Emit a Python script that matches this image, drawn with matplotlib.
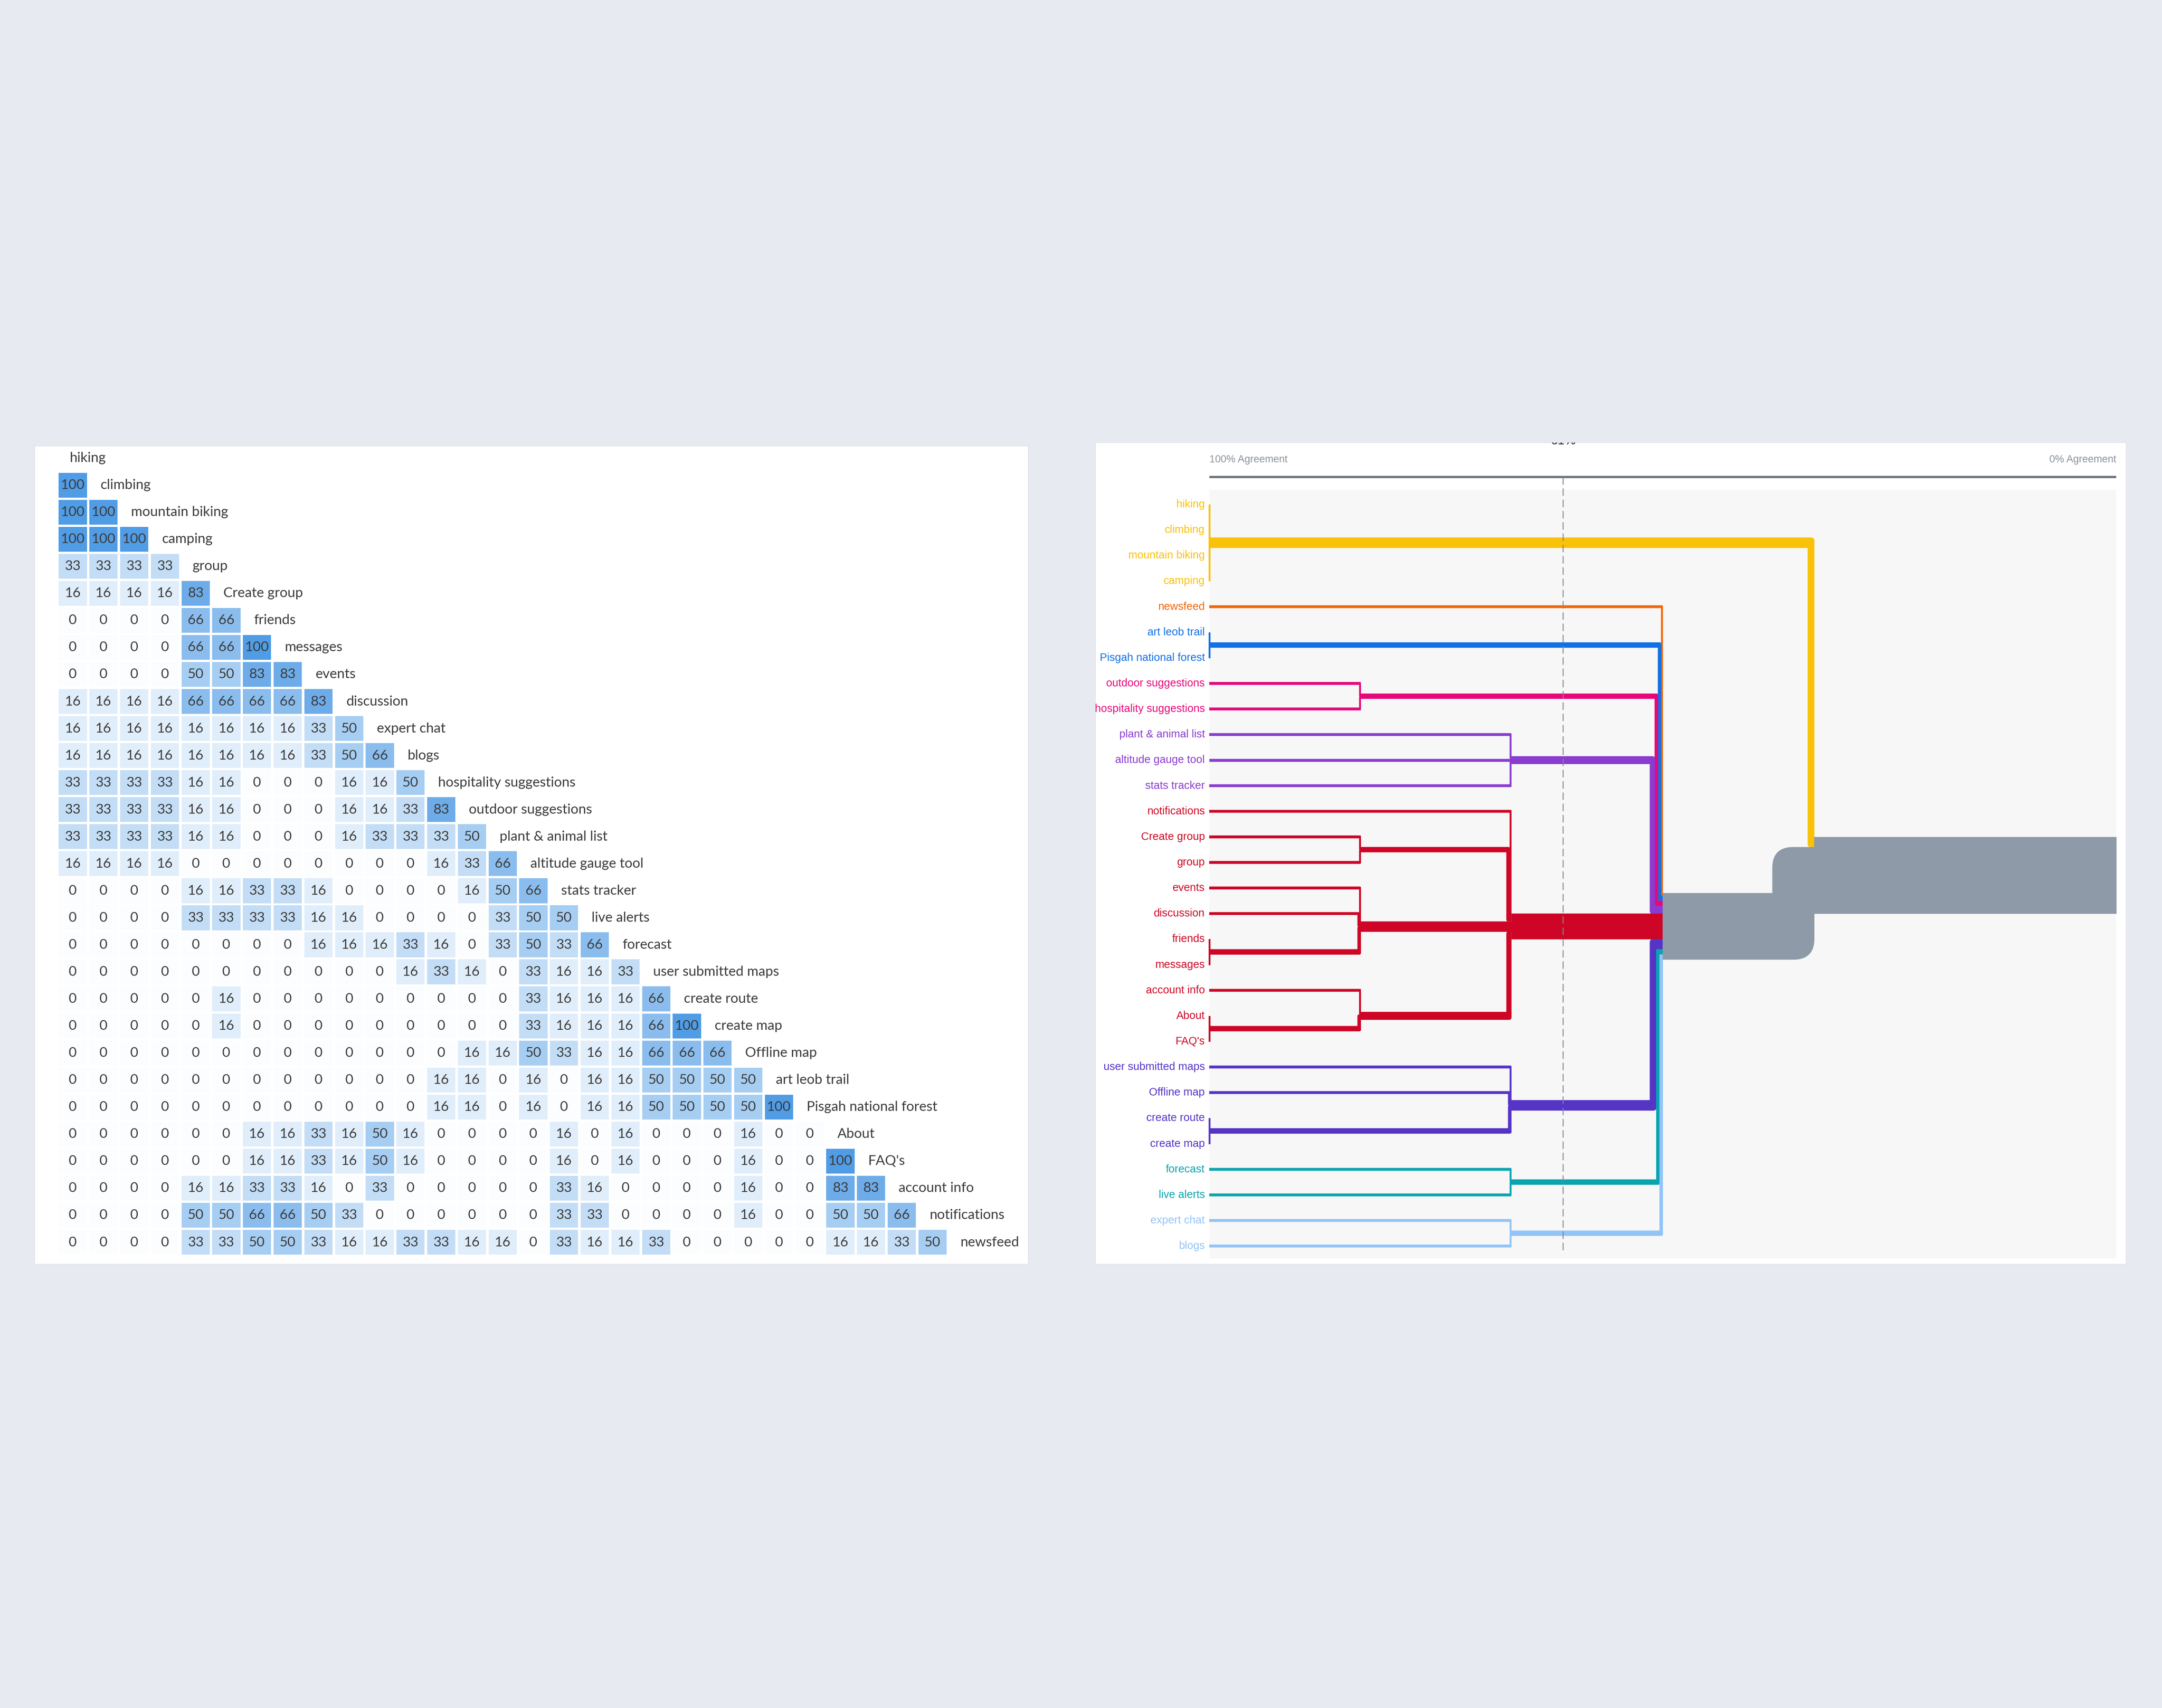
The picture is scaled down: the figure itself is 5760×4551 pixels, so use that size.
import matplotlib
matplotlib.use("Agg")
import matplotlib.pyplot as plt
from matplotlib.patches import Rectangle, PathPatch
from matplotlib.path import Path
import numpy as np

W, H, DPI = 5760, 4551, 100

# ---------------- similarity matrix (lower triangle, % agreement) ----------------
matrix_labels = ["hiking", "climbing", "mountain biking", "camping", "group", "Create group",
                 "friends", "messages", "events", "discussion", "expert chat", "blogs",
                 "hospitality suggestions", "outdoor suggestions", "plant & animal list",
                 "altitude gauge tool", "stats tracker", "live alerts", "forecast",
                 "user submitted maps", "create route", "create map", "Offline map",
                 "art leob trail", "Pisgah national forest", "About", "FAQ's", "account info",
                 "notifications", "newsfeed"]

matrix_rows = [
    [],
    [100],
    [100, 100],
    [100, 100, 100],
    [33, 33, 33, 33],
    [16, 16, 16, 16, 83],
    [0, 0, 0, 0, 66, 66],
    [0, 0, 0, 0, 66, 66, 100],
    [0, 0, 0, 0, 50, 50, 83, 83],
    [16, 16, 16, 16, 66, 66, 66, 66, 83],
    [16, 16, 16, 16, 16, 16, 16, 16, 33, 50],
    [16, 16, 16, 16, 16, 16, 16, 16, 33, 50, 66],
    [33, 33, 33, 33, 16, 16, 0, 0, 0, 16, 16, 50],
    [33, 33, 33, 33, 16, 16, 0, 0, 0, 16, 16, 33, 83],
    [33, 33, 33, 33, 16, 16, 0, 0, 0, 16, 33, 33, 33, 50],
    [16, 16, 16, 16, 0, 0, 0, 0, 0, 0, 0, 0, 16, 33, 66],
    [0, 0, 0, 0, 16, 16, 33, 33, 16, 0, 0, 0, 0, 16, 50, 66],
    [0, 0, 0, 0, 33, 33, 33, 33, 16, 16, 0, 0, 0, 0, 33, 50, 50],
    [0, 0, 0, 0, 0, 0, 0, 0, 16, 16, 16, 33, 16, 0, 33, 50, 33, 66],
    [0, 0, 0, 0, 0, 0, 0, 0, 0, 0, 0, 16, 33, 16, 0, 33, 16, 16, 33],
    [0, 0, 0, 0, 0, 16, 0, 0, 0, 0, 0, 0, 0, 0, 0, 33, 16, 16, 16, 66],
    [0, 0, 0, 0, 0, 16, 0, 0, 0, 0, 0, 0, 0, 0, 0, 33, 16, 16, 16, 66, 100],
    [0, 0, 0, 0, 0, 0, 0, 0, 0, 0, 0, 0, 0, 16, 16, 50, 33, 16, 16, 66, 66, 66],
    [0, 0, 0, 0, 0, 0, 0, 0, 0, 0, 0, 0, 16, 16, 0, 16, 0, 16, 16, 50, 50, 50, 50],
    [0, 0, 0, 0, 0, 0, 0, 0, 0, 0, 0, 0, 16, 16, 0, 16, 0, 16, 16, 50, 50, 50, 50, 100],
    [0, 0, 0, 0, 0, 0, 16, 16, 33, 16, 50, 16, 0, 0, 0, 0, 16, 0, 16, 0, 0, 0, 16, 0, 0],
    [0, 0, 0, 0, 0, 0, 16, 16, 33, 16, 50, 16, 0, 0, 0, 0, 16, 0, 16, 0, 0, 0, 16, 0, 0, 100],
    [0, 0, 0, 0, 16, 16, 33, 33, 16, 0, 33, 0, 0, 0, 0, 0, 33, 16, 0, 0, 0, 0, 16, 0, 0, 83, 83],
    [0, 0, 0, 0, 50, 50, 66, 66, 50, 33, 0, 0, 0, 0, 0, 0, 33, 33, 0, 0, 0, 0, 16, 0, 0, 50, 50, 66],
    [0, 0, 0, 0, 33, 33, 50, 50, 33, 16, 16, 33, 33, 16, 16, 0, 33, 16, 16, 33, 0, 0, 0, 0, 0, 16, 16, 33, 50],
]

# ---------------- dendrogram ----------------
dendro_leaves = ["hiking", "climbing", "mountain biking", "camping", "newsfeed",
                 "art leob trail", "Pisgah national forest", "outdoor suggestions",
                 "hospitality suggestions", "plant & animal list", "altitude gauge tool",
                 "stats tracker", "notifications", "Create group", "group", "events",
                 "discussion", "friends", "messages", "account info", "About", "FAQ's",
                 "user submitted maps", "Offline map", "create route", "create map",
                 "forecast", "live alerts", "expert chat", "blogs"]
leaf_group = [0, 0, 0, 0, 1, 2, 2, 3, 3, 4, 4, 4, 5, 5, 5, 5, 5, 5, 5, 5, 5, 5,
              6, 6, 6, 6, 7, 7, 8, 8]
group_colors = ["#F9C108", "#F2660A", "#1170E6", "#E6087A", "#8A3CD0",
                "#CE0526", "#5534C6", "#08A4B0", "#93C4F8"]
merged_color = "#8E9AA8"

# merge nodes get ids 30, 31, ... in this order; children are leaf or node ids
merge_levels = [100, 100, 83.3, 66.7, 83.3, 100, 83.3, 100, 83.3, 66.7,
                100, 66.7, 66.7, 66.7, 50, 33.3]
merge_children = [[0, 1, 2, 3], [5, 6], [7, 8], [9, 10, 11], [13, 14], [17, 18],
                  [15, 16, 35], [20, 21], [19, 37], [12, 34, 36, 38], [24, 25],
                  [22, 23, 40], [26, 27], [28, 29], [4, 31, 32, 33, 39, 41, 42, 43],
                  [30, 44]]
threshold = 61

plt.rcParams["font.family"] = ["Lato", "DejaVu Sans"]
narrow = ["Liberation Sans Narrow", "Liberation Sans", "DejaVu Sans"]

fig = plt.figure(figsize=(W / DPI, H / DPI), dpi=DPI)
fig.patch.set_facecolor("#E8EAF2")


def card(x0, y0, x1, y1):
    ax = fig.add_axes([x0 / W, 1 - y1 / H, (x1 - x0) / W, (y1 - y0) / H])
    ax.set_facecolor("white")
    ax.set_xticks([])
    ax.set_yticks([])
    for s in ax.spines.values():
        s.set_color("#DEDFE6")
        s.set_linewidth(1)
    return ax


# ---- left card: matrix ----
box = (92, 1188, 2739, 3368)
col0, col_px, row0, row_px = 194, 81.8, 1220.6, 72.05
axm = card(*box)
axm.set_xlim((box[0] - col0) / col_px, (box[2] - col0) / col_px)
axm.set_ylim((box[3] - row0) / row_px, (box[1] - row0) / row_px)

c_lo = np.array([252, 253, 254]) / 255
c_hi = np.array([80, 156, 229]) / 255
txt_col = "#3b3b3b"
for r, row in enumerate(matrix_rows):
    for c, v in enumerate(row):
        fc = c_lo + (c_hi - c_lo) * v / 100
        axm.add_patch(Rectangle((c - 0.46, r - 0.46), 0.92, 0.92, facecolor=fc,
                                edgecolor="none"))
        axm.text(c, r, str(v), ha="center", va="center", fontsize=26.5, color=txt_col)
    axm.text(r - 0.1, r, matrix_labels[r], ha="left", va="center", fontsize=26.5,
             color=txt_col)

# ---- right card: dendrogram ----
box = (2918, 1179, 5664, 3368)
x100, pct_px, y0, leaf_px = 3222, 24.16, 1344, 68.14
axd = card(*box)
axd.set_xlim(100 + (x100 - box[0]) / pct_px, 100 - (box[2] - x100) / pct_px)
axd.set_ylim((box[3] - y0) / leaf_px, (box[1] - y0) / leaf_px)

n_leaves = len(dendro_leaves)
axd.add_patch(Rectangle((0, -0.56), 100, 30.04, facecolor="#F7F7F7", edgecolor="none",
                        zorder=0))

item_px = 6.8      # band thickness per item
vfac = 0.63        # vertical connectors are drawn thinner than the bands

level = [100.0] * n_leaves
ypos = [float(i) for i in range(n_leaves)]
count = [1] * n_leaves
color = [group_colors[g] for g in leaf_group]
for lev, kids in zip(merge_levels, merge_children):
    n = sum(count[k] for k in kids)
    level.append(lev)
    count.append(n)
    ypos.append(sum(ypos[k] * count[k] for k in kids) / n)
    cols = set(color[k] for k in kids)
    color.append(cols.pop() if len(cols) == 1 else merged_color)


# geometry is worked out in pixel units, then mapped back to data units
def X(x):
    return x100 + (100 - x) * pct_px


def Y(y):
    return y0 + y * leaf_px


def to_data(v):
    return (100 - (v[0] - x100) / pct_px, (v[1] - y0) / leaf_px)


def shape(pts, radii, fc):
    keep_p, keep_r = [], []
    for p, r in zip(pts, radii):
        if keep_p and np.hypot(p[0] - keep_p[-1][0], p[1] - keep_p[-1][1]) < 1e-6:
            continue
        keep_p.append(p)
        keep_r.append(r)
    n = len(keep_p)
    verts, codes = [], []
    for i in range(n):
        b = np.array(keep_p[i], float)
        r = keep_r[i]
        if r <= 0:
            verts.append(tuple(b))
            codes.append(Path.LINETO)
            continue
        a = np.array(keep_p[i - 1], float)
        c = np.array(keep_p[(i + 1) % n], float)
        la, lc = np.hypot(*(a - b)), np.hypot(*(c - b))
        rr = min(r, la / 2, lc / 2)
        verts += [tuple(b + (a - b) / la * rr), tuple(b), tuple(b + (c - b) / lc * rr)]
        codes += [Path.LINETO, Path.CURVE3, Path.CURVE3]
    codes[0] = Path.MOVETO
    verts.append(verts[0])
    codes.append(Path.CLOSEPOLY)
    axd.add_patch(PathPatch(Path([to_data(v) for v in verts], codes), facecolor=fc,
                            edgecolor=fc, lw=0.6, zorder=2))


def link(c, Xm, Ys, Xv):
    Xs, Yc = X(level[c]), Y(ypos[c])
    t = count[c] * item_px
    v = vfac * t
    ht, hv = t / 2, v / 2
    fc = color[c]
    if Xv is None:
        shape([(Xs, Yc - ht), (Xm, Yc - ht), (Xm, Yc + ht), (Xs, Yc + ht)], [0] * 4, fc)
        return
    s = 1 if Ys > Yc else -1
    if Xm - Xs < 1e-6:
        shape([(Xs - hv, Yc), (Xs + hv, Yc), (Xs + hv, Ys + s * ht), (Xs - hv, Ys + s * ht)],
              [0] * 4, fc)
        return
    Xv = max(Xv, Xs + hv)
    r = min(t, v) / 2
    pts = [(Xs, Yc - s * ht), (Xv + hv, Yc - s * ht), (Xv + hv, Ys - s * ht),
           (Xm, Ys - s * ht), (Xm, Ys + s * ht), (Xv - hv, Ys + s * ht),
           (Xv - hv, Yc + s * ht), (Xs, Yc + s * ht)]
    shape(pts, [0, r, 0, 0, 0, r, 0, 0], fc)


for k, (lev, kids) in enumerate(zip(merge_levels, merge_children)):
    p = n_leaves + k
    Xm = X(lev)
    kids = sorted(kids, key=lambda c: ypos[c])
    acc = Y(ypos[p]) - count[p] * item_px / 2
    slot = {}
    for c in kids:
        slot[c] = acc + count[c] * item_px / 2
        acc += count[c] * item_px
    down = [c for c in kids if slot[c] > Y(ypos[c]) + 1e-6]
    up = [c for c in kids if slot[c] < Y(ypos[c]) - 1e-6][::-1]
    xv = {}
    for grp in (down, up):
        off = 0.0
        for c in grp:
            v = vfac * count[c] * item_px
            xv[c] = Xm - off - v / 2
            off += v
    for c in kids:
        link(c, Xm, slot[c], xv.get(c))

root = len(level) - 1
t_root = count[root] * item_px
shape([(X(level[root]), Y(ypos[root]) - t_root / 2), (X(0), Y(ypos[root]) - t_root / 2),
       (X(0), Y(ypos[root]) + t_root / 2), (X(level[root]), Y(ypos[root]) + t_root / 2)],
      [0] * 4, color[root])

for i, name in enumerate(dendro_leaves):
    axd.text(100.5, i, name, ha="right", va="center", fontsize=21,
             color=group_colors[leaf_group[i]], family=narrow)

# agreement scale
ax_y = (1271 - y0) / leaf_px
axd.plot([100, 0], [ax_y, ax_y], color="#6B747C", lw=4.3, solid_capstyle="butt", zorder=3)
lab_y = (1225 - y0) / leaf_px
axd.text(100, lab_y, "100% Agreement", ha="left", va="center", fontsize=19.5,
         color="#8A9299", family=narrow)
axd.text(0, lab_y, "0% Agreement", ha="right", va="center", fontsize=19.5,
         color="#8A9299", family=narrow)
axd.plot([threshold, threshold], [ax_y, 29.3], color="#7E8891", lw=1.8,
         dashes=(8, 4), zorder=4)
axd.text(threshold, (1191 - y0) / leaf_px, "%d%%" % threshold, ha="center", va="bottom",
         fontsize=24, color="#222222", family=narrow, clip_on=True)

fig.savefig("out.png", dpi=DPI, facecolor=fig.get_facecolor())
